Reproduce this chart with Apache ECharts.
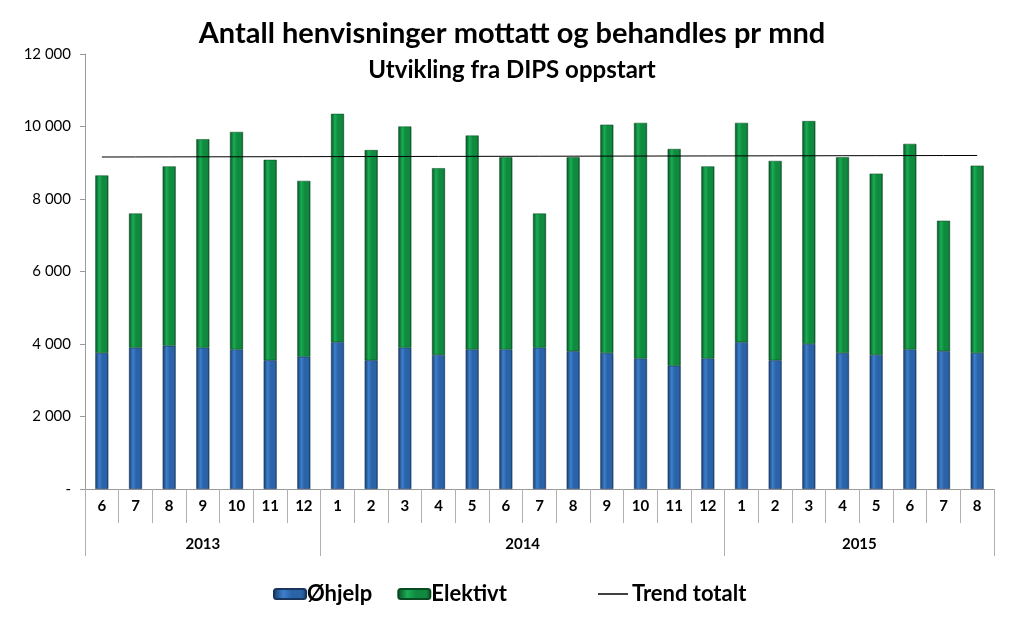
<!DOCTYPE html>
<html>
<head>
<meta charset="utf-8">
<script src="https://cdn.jsdelivr.net/npm/echarts@6/dist/echarts.min.js"></script>
<style>
html,body{margin:0;padding:0;background:#fff;}
#chart{width:1024px;height:625px;}
</style>
</head>
<body>
<div id="chart"></div>
<script>
// ---- Data ----
var months = ['6','7','8','9','10','11','12','1','2','3','4','5','6','7','8','9','10','11','12','1','2','3','4','5','6','7','8'];
var years = ['2013','2014','2015'];
var yearMonthCounts = [7, 12, 8];
var ohjelp = [3750,3900,3950,3900,3850,3550,3650,4050,3550,3900,3700,3850,3850,3900,3800,3750,3600,3400,3600,4050,3550,4000,3750,3700,3850,3800,3750];
var totalt = [8650,7600,8900,9650,9850,9080,8500,10350,9350,10000,8850,9750,9150,7600,9150,10050,10100,9380,8900,10100,9050,10150,9150,8700,9520,7400,8920];
var yTicks = [0,2000,4000,6000,8000,10000,12000];

// Elektivt = total - Øhjelp
var elektivt = totalt.map(function(t,i){ return t - ohjelp[i]; });

// Linear trend (least squares) of totals, like the spreadsheet trendline
var n = totalt.length, mx = (n-1)/2, my = totalt.reduce(function(a,b){return a+b;},0)/n;
var sxy = 0, sxx = 0;
totalt.forEach(function(y,i){ sxy += (i-mx)*(y-my); sxx += (i-mx)*(i-mx); });
var slope = sxy/sxx;
var trend = totalt.map(function(_,i){ return my + slope*(i-mx); });

// year group boundaries and centres
var bounds = [0], centres = [];
yearMonthCounts.forEach(function(c){ var s = bounds[bounds.length-1]; centres.push(s + c/2); bounds.push(s + c); });

var FONT = 'Lato, "Open Sans", sans-serif';
var chart = echarts.init(document.getElementById('chart'));

function grad(edge, mid, light){
  return new echarts.graphic.LinearGradient(0,0,1,0,[
    {offset:0,color:edge},{offset:0.3,color:light},{offset:0.55,color:mid},{offset:0.85,color:mid},{offset:1,color:edge}
  ]);
}

var option = {
  animation: false,
  backgroundColor: '#fff',
  textStyle: {fontFamily: FONT},
  title: {
    text: 'Antall henvisninger mottatt og behandles pr mnd',
    subtext: 'Utvikling fra DIPS oppstart',
    left: 'center',
    top: 14,
    itemGap: 10,
    textStyle: {fontFamily: FONT, fontSize: 29, fontWeight: 'bold', color: '#000'},
    subtextStyle: {fontFamily: FONT, fontSize: 24, fontWeight: 'bold', color: '#000'}
  },
  legend: [{
    data: ['Øhjelp','Elektivt'],
    left: 273, top: 583, padding: 0,
    itemWidth: 32, itemHeight: 10, itemGap: 25,
    textStyle: {fontFamily: FONT, fontSize: 22, fontWeight: 'bold', color: '#000', padding:[0,0,0,-4]}
  },{
    data: [{name:'Trend totalt', icon:'path://M0,0 L40,0 L40,2 L0,2 Z'}],
    left: 598, top: 583, padding: 0,
    itemWidth: 36, itemHeight: 1.5,
    textStyle: {fontFamily: FONT, fontSize: 22, fontWeight: 'bold', color: '#000', padding:[0,0,0,-4]}
  }],
  grid: {left: 85, right: 30, top: 54, bottom: 136, containLabel: false},
  xAxis: [{
    type: 'category',
    data: months,
    boundaryGap: true,
    axisLine: {lineStyle: {color: '#9a9a9a', width: 1}},
    axisTick: {show: true, interval: 0, length: 34, lineStyle: {color: '#b0b0b0'}},
    axisLabel: {interval: 0, margin: 10, fontFamily: FONT, fontSize: 15, fontWeight: 'bold', color: '#000'}
  },{
    type: 'value',
    position: 'bottom',
    min: 0, max: months.length,
    axisLine: {show: false},
    splitLine: {show: false},
    axisTick: {show: true, length: 67, customValues: bounds, lineStyle: {color: '#b0b0b0'}},
    axisLabel: {
      show: true, margin: 48, customValues: centres,
      fontFamily: FONT, fontSize: 15, fontWeight: 'bold', color: '#000',
      formatter: function(v){ var k = centres.indexOf(v); return k >= 0 ? years[k] : ''; }
    }
  }],
  yAxis: {
    type: 'value',
    min: yTicks[0], max: yTicks[yTicks.length-1], interval: yTicks[1]-yTicks[0],
    axisLine: {show: true, lineStyle: {color: '#9a9a9a'}},
    axisTick: {show: true, length: 5, lineStyle: {color: '#9a9a9a'}},
    splitLine: {show: false},
    axisLabel: {
      margin: 14, fontFamily: FONT, fontSize: 15, color: '#000',
      formatter: function(v){ return v === 0 ? '-' : String(v).replace(/\B(?=(\d{3})+(?!\d))/g, ' '); }
    }
  },
  series: [{
    name: 'Øhjelp', type: 'bar', stack: 'tot', xAxisIndex: 0,
    data: ohjelp, barWidth: 13,
    itemStyle: {color: grad('#163a66', '#2a63a8', '#3d7fcc'), borderColor: '#1a355c', borderWidth: 0.5}
  },{
    name: 'Elektivt', type: 'bar', stack: 'tot', xAxisIndex: 0,
    data: elektivt, barWidth: 13,
    itemStyle: {color: grad('#0a4f24', '#0f8a3e', '#19ad55'), borderColor: '#0a4a22', borderWidth: 0.5}
  },{
    name: 'Trend totalt', type: 'line', xAxisIndex: 0,
    data: trend, symbol: 'none', silent: true,
    lineStyle: {color: '#000', width: 1},
    itemStyle: {color: '#000'}
  }]
};
chart.setOption(option);
</script>
</body>
</html>
